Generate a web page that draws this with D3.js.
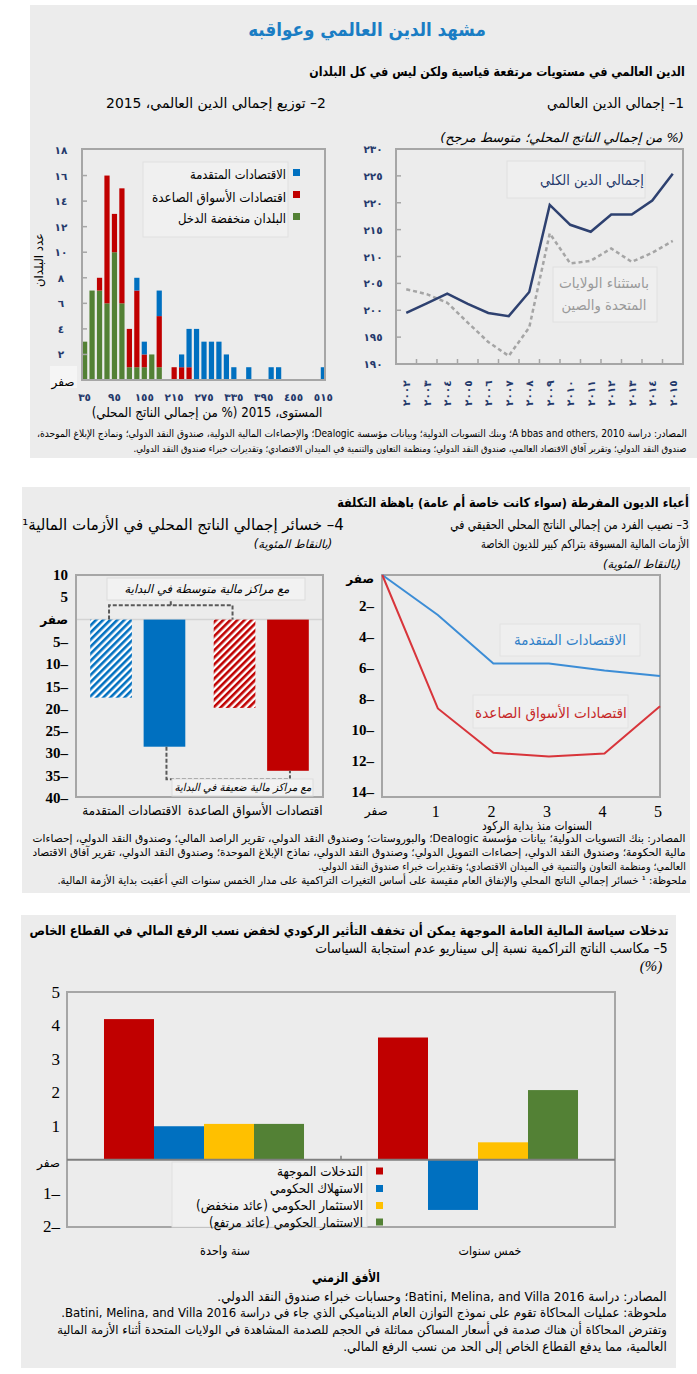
<!DOCTYPE html>
<html><head><meta charset="utf-8">
<script src="https://cdn.jsdelivr.net/npm/d3@7"></script>
<style>body{margin:0;background:#fff}svg{display:block}</style>
</head><body>
<script>
// ================= DATA =================
// Panel 1: global debt (% of GDP, weighted average)
const yearLabels = ["٢٠٠٢","٢٠٠٣","٢٠٠٤","٢٠٠٥","٢٠٠٦","٢٠٠٧","٢٠٠٨","٢٠٠٩","٢٠١٠","٢٠١١","٢٠١٢","٢٠١٣","٢٠١٤","٢٠١٥"];
const totalDebt = [199.5, 201.3, 203.1, 201.2, 199.5, 198.9, 203.4, 219.6, 215.9, 214.6, 217.8, 217.8, 220.4, 225.4];
const debtExUSChina = [203.9, 203.0, 201.4, 197.7, 194.1, 191.5, 196.8, 214.3, 208.7, 209.2, 211.5, 209.0, 210.7, 212.9];
const debtYTicks = [190,195,200,205,210,215,220,225,230];
const debtYTickLabels = ["١٩٠","١٩٥","٢٠٠","٢٠٥","٢١٠","٢١٥","٢٢٠","٢٢٥","٢٣٠"];

// Panel 2: distribution of debt 2015 (number of countries per bin)
const binStarts = [35,50,65,80,95,110,125,140,155,170,185,200,215,230,245,260,275,290,305,320,335,350,365,380,395,410,425,440,455,470,485,500,515];
const lowIncomeCount = [3,7,7,6,10,6,1,1,1,2,1,0,0,0,0,0,0,0,0,0,0,0,0,0,0,0,0,0,0,0,0,0,0];
const emergingCount  = [0,0,1,10,3,9,3,6,1,0,4,0,1,1,1,0,0,0,0,0,0,0,0,0,0,0,0,0,0,0,0,0,0];
const advancedCount  = [0,0,0,0,0,0,0,1,1,0,2,0,0,1,3,4,3,3,3,2,1,0,1,0,0,1,1,0,0,0,0,0,1];
const histXTickValues = [35,95,155,215,275,335,395,455,515];
const histXTickLabels = ["٣٥","٩٥","١٥٥","٢١٥","٢٧٥","٣٣٥","٣٩٥","٤٥٥","٥١٥"];
const histYTicks = [0,2,4,6,8,10,12,14,16,18];
const histYTickLabels = ["صفر","٢","٤","٦","٨","١٠","١٢","١٤","١٦","١٨"];
const histSeries = ["البلدان منخفضة الدخل","اقتصادات الأسواق الصاعدة","الاقتصادات المتقدمة"];

// Panel 3: real GDP per capita after crises (percentage points)
const yearsSince = [0,1,2,3,4,5];
const yearsSinceLabels = ["صفر","1","2","3","4","5"];
const advancedPath = [0, 2.58, 5.7, 5.7, 6.15, 6.5];
const emergingPath = [0, 8.6, 11.45, 11.7, 11.5, 8.45];
const pathYTicks = [0,2,4,6,8,10,12,14];
const pathYTickLabels = ["صفر","2–","4–","6–","8–","10–","12–","14–"];

// Panel 4: GDP losses in financial crises (percentage points)
const lossGroups = ["الاقتصادات المتقدمة","اقتصادات الأسواق الصاعدة"];
const lossMedium = [-17.5, -19.8];   // medium initial fiscal position (hatched)
const lossWeak   = [-28.5, -33.9];   // weak initial fiscal position (solid)
const lossYTicks = [10,5,0,-5,-10,-15,-20,-25,-30,-35,-40];
const lossYTickLabels = ["10","5","صفر","5–","10–","15–","20–","25–","30–","35–","40–"];

// Panel 5: cumulative output gains relative to no-policy scenario (%)
const horizonGroups = ["سنة واحدة","خمس سنوات"];
const targeted       = [4.2, 3.65];
const govConsumption = [1.0, -1.5];
const govInvestLow   = [1.07, 0.52];
const govInvestHigh  = [1.07, 2.08];
const gainSeries = ["التدخلات الموجهة","الاستهلاك الحكومي","الاستثمار الحكومي (عائد منخفض)","الاستثمار الحكومي (عائد مرتفع)"];
const gainYTicks = [-2,-1,0,1,2,3,4,5];
const gainYTickLabels = ["2–","1–","صفر","1","2","3","4","5"];

// ================= DRAWING =================
const AR = "'DejaVu Sans', sans-serif";
const SERIF = "'Liberation Serif', 'DejaVu Sans', serif";
const BG = "#ececec";
const FRAME = "#a6a6a6";
const BLUE = "#0070c0", RED = "#c00000", GREEN = "#538135", YELLOW = "#ffc000";
const NAVY = "#24396b";

const svg = d3.select("body").append("svg").attr("width",697).attr("height",1374);
const defs = svg.append("defs");

// text helper: a text wider than its target width is partly shrunk and partly narrowed
function T(p, s, x, y, o = {}) {
  const size = o.size || 13;
  const t = p.append("text").attr("x", x).attr("y", y).text(s)
    .attr("font-family", o.font || AR).attr("font-size", size)
    .attr("fill", o.color || "#000").attr("text-anchor", o.anchor || "middle")
    .attr("dominant-baseline", "central");
  if (o.rtl !== false) t.style("direction", "rtl").style("unicode-bidi", "embed");
  if (o.bold) t.attr("font-weight", "bold");
  if (o.italic) t.attr("font-style", "italic");
  let tr = "";
  if (o.w) {
    const L = t.node().getComputedTextLength();
    if (L > o.w) {
      const r = o.w / L;
      const k = Math.sqrt(r);
      t.attr("font-size", (size * k).toFixed(2));
      tr = `translate(${x},${y}) scale(${k.toFixed(4)},1) translate(${-x},${-y})`;
    }
  }
  if (o.rotate) tr = `rotate(${o.rotate},${x},${y}) ` + tr;
  if (tr) t.attr("transform", tr);
  return t;
}
function box(p, x, y, w, h, fill = "#f2f2f2", stroke = "#e3e3e3") {
  return p.append("rect").attr("x", x).attr("y", y).attr("width", w).attr("height", h)
    .attr("fill", fill).attr("stroke", stroke).attr("stroke-width", 1);
}

// background boxes
box(svg, 30, 5, 667, 453, BG, "none");
box(svg, 22, 487, 668, 406, BG, "none");
box(svg, 21, 915, 655, 453, BG, "none");

// ---------- Box 1 headings ----------
T(svg, "مشهد الدين العالمي وعواقبه", 367, 29, {size: 21, bold: true, color: "#1a7dc4", w: 238});
T(svg, "الدين العالمي في مستويات مرتفعة قياسية ولكن ليس في كل البلدان", 497, 72, {size: 14.5, bold: true, w: 376});
T(svg, "1– إجمالي الدين العالمي", 615.5, 103, {size: 15, w: 137});
T(svg, "2– توزيع إجمالي الدين العالمي، 2015", 216, 103, {size: 15, w: 220});
T(svg, "(% من إجمالي الناتج المحلي؛ متوسط مرجح)", 562, 137, {size: 13, italic: true, w: 252});

// ---------- Panel 1 ----------
{
  const x = d3.scaleBand().domain(yearLabels).range([396, 683]);
  const y = d3.scaleLinear().domain([190, 230]).range([364, 149]);
  const g = svg.append("g");
  g.append("rect").attr("x", 396).attr("y", 149).attr("width", 287).attr("height", 215)
    .attr("fill", "none").attr("stroke", FRAME).attr("stroke-width", 2);
  g.selectAll(".yt").data(debtYTicks.slice(1, -1)).join("line")
    .attr("x1", 396).attr("x2", 401).attr("y1", d => y(d)).attr("y2", d => y(d))
    .attr("stroke", FRAME).attr("stroke-width", 1.5);
  g.selectAll(".xt").data(yearLabels.slice(1)).join("line")
    .attr("x1", d => x(d)).attr("x2", d => x(d)).attr("y1", 364).attr("y2", 359)
    .attr("stroke", FRAME).attr("stroke-width", 1.5);
  debtYTicks.forEach((v, i) => T(g, debtYTickLabels[i], 373, y(v), {size: 10.5, bold: true, color: NAVY, rtl: false}));
  yearLabels.forEach(d => {
    const cx = x(d) + x.bandwidth() / 2;
    g.append("text").text(d).attr("font-family", AR).attr("font-size", 10.5).attr("font-weight", "bold")
      .attr("fill", NAVY).attr("text-anchor", "start").attr("dominant-baseline", "central")
      .attr("transform", `translate(${cx},406) rotate(-90)`);
  });
  const line = d3.line().x((d, i) => x(yearLabels[i]) + x.bandwidth() / 2).y(d => y(d));
  g.append("path").datum(debtExUSChina).attr("d", line).attr("fill", "none")
    .attr("stroke", "#a5a5a5").attr("stroke-width", 2.5).attr("stroke-dasharray", "4,3");
  g.append("path").datum(totalDebt).attr("d", line).attr("fill", "none")
    .attr("stroke", "#2e4170").attr("stroke-width", 2.5);
  box(g, 507, 161, 138, 37, "#efefef", "#e0e0e0");
  T(g, "إجمالي الدين الكلي", 592, 180, {size: 15.5, color: "#24396b", w: 104});
  box(g, 553, 267, 104, 55, "#efefef", "#e0e0e0");
  T(g, "باستثناء الولايات", 604, 283, {size: 15, color: "#9a9a9a", w: 90});
  T(g, "المتحدة والصين", 604, 305, {size: 15, color: "#9a9a9a", w: 85});
}

// ---------- Panel 2 ----------
{
  const x = d3.scaleBand().domain(binStarts).range([82, 326]).paddingInner(0.3).paddingOuter(0);
  const y = d3.scaleLinear().domain([0, 18]).range([380, 150]);
  const g = svg.append("g");
  box(g, 50, 366, 27, 22, "#f5f5f5", "none");
  const rows = binStarts.map((b, i) => ({bin: b, low: lowIncomeCount[i], em: emergingCount[i], adv: advancedCount[i]}));
  const stack = d3.stack().keys(["low", "em", "adv"])(rows);
  const colors = {low: GREEN, em: RED, adv: BLUE};
  stack.forEach(layer => {
    g.selectAll(null).data(layer.filter(d => d[1] > d[0])).join("rect")
      .attr("x", d => x(d.data.bin)).attr("width", x.bandwidth())
      .attr("y", d => y(d[1])).attr("height", d => y(d[0]) - y(d[1]))
      .attr("fill", colors[layer.key]);
  });
  g.append("rect").attr("x", 82).attr("y", 149).attr("width", 243).attr("height", 231)
    .attr("fill", "none").attr("stroke", FRAME).attr("stroke-width", 2);
  g.selectAll(".yt").data(histYTicks.slice(1, -1)).join("line")
    .attr("x1", 82).attr("x2", 87).attr("y1", d => y(d)).attr("y2", d => y(d))
    .attr("stroke", FRAME).attr("stroke-width", 1.5);
  histYTicks.forEach((v, i) => {
    if (v === 0) T(g, histYTickLabels[i], 63, 382, {size: 12});
    else T(g, histYTickLabels[i], 61, y(v), {size: 10.5, bold: true, color: NAVY, rtl: false});
  });
  histXTickValues.forEach((v, i) => T(g, histXTickLabels[i], x(v) + x.bandwidth() / 2, 397, {size: 10.5, bold: true, color: NAVY, rtl: false}));
  T(g, "عدد البلدان", 39, 260, {size: 13, rotate: -90, w: 54});
  T(g, "المستوى، 2015 (% من إجمالي الناتج المحلي)", 207, 412, {size: 15, w: 231});
  box(g, 143, 162, 145, 75, "#f0f0f0", "#e0e0e0");
  const legC = [BLUE, RED, GREEN];
  const legT = [histSeries[2], histSeries[1], histSeries[0]];
  const legW = [96, 134, 108];
  const legY = [175, 197, 219];
  legT.forEach((s, i) => {
    g.append("rect").attr("x", 293).attr("y", legY[i] - 6).attr("width", 7).attr("height", 7).attr("fill", legC[i]);
    T(g, s, 286 - legW[i] / 2, legY[i], {size: 14, w: legW[i]});
  });
}

// Box 1 sources
T(svg, "المصادر: دراسة A bbas and others, 2010؛ وبنك التسويات الدولية؛ وبيانات مؤسسة Dealogic؛ والإحصاءات المالية الدولية، صندوق النقد الدولي؛ ونماذج الإبلاغ الموحدة،", 362, 433, {size: 11, w: 650});
T(svg, "صندوق النقد الدولي؛ وتقرير آفاق الاقتصاد العالمي، صندوق النقد الدولي؛ ومنظمة التعاون والتنمية في الميدان الاقتصادي؛ وتقديرات خبراء صندوق النقد الدولي.", 410, 449, {size: 11, w: 554});

// ---------- Box 2 headings ----------
T(svg, "أعباء الديون المفرطة (سواء كانت خاصة أم عامة) باهظة التكلفة", 513, 503, {size: 14.5, bold: true, w: 352});
T(svg, "3– نصيب الفرد من إجمالي الناتج المحلي الحقيقي في", 569.5, 525, {size: 15.5, w: 239});
T(svg, "الأزمات المالية المسبوقة بتراكم كبير للديون الخاصة", 585, 544, {size: 15.5, w: 208});
T(svg, "(بالنقاط المئوية)", 642, 564, {size: 11.5, italic: true, w: 78});
T(svg, "4– خسائر إجمالي الناتج المحلي في الأزمات المالية¹", 183, 525, {size: 15.5, w: 322});
T(svg, "(بالنقاط المئوية)", 293, 544, {size: 11.5, italic: true, w: 82});

// ---------- Panel 4 ----------
{
  const x0 = d3.scaleBand().domain(lossGroups).range([76, 323]).paddingInner(0.23).paddingOuter(0.115);
  const x1 = d3.scaleBand().domain(["medium", "weak"]).range([0, x0.bandwidth()]).paddingInner(0.22);
  const y = d3.scaleLinear().domain([-40, 10]).range([798, 575]);
  const g = svg.append("g");
  const mkHatch = (id, c) => {
    const p = defs.append("pattern").attr("id", id).attr("patternUnits", "userSpaceOnUse")
      .attr("width", 5).attr("height", 5).attr("patternTransform", "rotate(45)");
    p.append("rect").attr("width", 5).attr("height", 5).attr("fill", "#fff");
    p.append("rect").attr("width", 2.6).attr("height", 5).attr("fill", c);
  };
  mkHatch("hatchBlue", BLUE); mkHatch("hatchRed", RED);
  const gc = [BLUE, RED];
  g.append("line").attr("x1", 76).attr("x2", 323).attr("y1", y(0)).attr("y2", y(0)).attr("stroke", "#d4d4d4").attr("stroke-width", 1.5);
  lossGroups.forEach((cat, i) => {
    g.append("rect").attr("x", x0(cat) + x1("medium")).attr("width", x1.bandwidth())
      .attr("y", y(0)).attr("height", y(lossMedium[i]) - y(0))
      .attr("fill", `url(#${i === 0 ? "hatchBlue" : "hatchRed"})`);
    g.append("rect").attr("x", x0(cat) + x1("weak")).attr("width", x1.bandwidth())
      .attr("y", y(0)).attr("height", y(lossWeak[i]) - y(0)).attr("fill", gc[i]);
    T(g, cat, x0(cat) + x0.bandwidth() / 2 - 6, 810, {size: 14.5, w: i === 0 ? 99 : 135});
  });
  g.append("rect").attr("x", 76).attr("y", 575).attr("width", 247).attr("height", 222)
    .attr("fill", "none").attr("stroke", FRAME).attr("stroke-width", 2);
  lossYTicks.forEach((v, i) => {
    if (v === 0) T(g, lossYTickLabels[i], 68, y(v), {size: 12, bold: true, anchor: "end", rtl: false});
    else T(g, lossYTickLabels[i], 68, y(v), {size: 15, bold: true, font: SERIF, anchor: "end", rtl: false});
  });
  const cM = lossGroups.map(c => x0(c) + x1("medium") + x1.bandwidth() / 2 - 2);
  const cW = lossGroups.map(c => x0(c) + x1("weak") + x1.bandwidth() / 2 + 2);
  const dash = {stroke: "#595959", "stroke-width": 2, "stroke-dasharray": "4,2", fill: "none"};
  const topY = y(3.2);
  const pTop = g.append("path").attr("d", `M${cM[0]},${y(0)}V${topY}H${cM[1]}V${y(0)}M${(cM[0] + cM[1]) / 2},${topY}V${topY - 4}`);
  const botY = y(-35.8);
  const pBot = g.append("path").attr("d", `M${cW[0]},${y(lossWeak[0])}V${botY}H${cW[1]}V${y(lossWeak[1])}`);
  [pTop, pBot].forEach(p => Object.entries(dash).forEach(([k, v]) => p.attr(k, v)));
  box(g, 107, 578, 198, 22, "#f2f2f2", "#dcdcdc");
  T(g, "مع مراكز مالية متوسطة في البداية", 207, 589, {size: 12.5, italic: true, w: 165});
  box(g, 172, 779, 141, 17, "#f2f2f2", "#dcdcdc");
  T(g, "مع مراكز مالية ضعيفة في البداية", 243, 787, {size: 11.5, italic: true, w: 137});
}

// ---------- Panel 3 ----------
{
  const x = d3.scaleLinear().domain([0, 5]).range([382.3, 660]);
  const y = d3.scaleLinear().domain([0, 14]).range([575, 792.3]);
  const g = svg.append("g");
  g.append("rect").attr("x", 382).attr("y", 575).attr("width", 278).attr("height", 222)
    .attr("fill", "none").attr("stroke", FRAME).attr("stroke-width", 2);
  pathYTicks.forEach((v, i) => {
    if (v === 0) T(g, pathYTickLabels[i], 374, y(v) + 4, {size: 12, bold: true, anchor: "end", rtl: false});
    else T(g, pathYTickLabels[i], 374, y(v), {size: 15, bold: true, font: SERIF, anchor: "end", rtl: false});
  });
  yearsSince.forEach((v, i) => {
    if (v === 0) T(g, yearsSinceLabels[i], x(v) - 6, 811, {size: 12});
    else T(g, yearsSinceLabels[i], x(v) - 2, 811, {size: 16, font: SERIF, rtl: false});
  });
  T(g, "السنوات منذ بداية الركود", 537, 826, {size: 14.5, w: 110});
  const line = d3.line().x((d, i) => x(yearsSince[i])).y(d => y(d));
  g.append("path").datum(advancedPath).attr("d", line).attr("fill", "none").attr("stroke", "#3c8dd6").attr("stroke-width", 2);
  g.append("path").datum(emergingPath).attr("d", line).attr("fill", "none").attr("stroke", "#d8353b").attr("stroke-width", 2);
  box(g, 500, 624, 140, 32, "#efefef", "#e2e2e2");
  T(g, "الاقتصادات المتقدمة", 570, 640, {size: 16, color: "#2f7fc8", w: 112});
  box(g, 473, 695, 155, 33, "#efefef", "#e2e2e2");
  T(g, "اقتصادات الأسواق الصاعدة", 551, 713, {size: 16, color: "#c62828", w: 152});
}

// Box 2 sources
T(svg, "المصادر: بنك التسويات الدولية؛ بيانات مؤسسة Dealogic؛ والبوروستات؛ وصندوق النقد الدولي، تقرير الراصد المالي؛ وصندوق النقد الدولي، إحصاءات", 359, 838, {size: 11, w: 654});
T(svg, "مالية الحكومة؛ وصندوق النقد الدولي، إحصاءات التمويل الدولي؛ وصندوق النقد الدولي، نماذج الإبلاغ الموحدة؛ وصندوق النقد الدولي، تقرير آفاق الاقتصاد", 359, 852, {size: 11, w: 654});
T(svg, "العالمي؛ ومنظمة التعاون والتنمية في الميدان الاقتصادي؛ وتقديرات خبراء صندوق النقد الدولي.", 502, 866, {size: 11, w: 368});
T(svg, "ملحوظة: ¹ خسائر إجمالي الناتج المحلي والإنفاق العام مقيسة على أساس التغيرات التراكمية على مدار الخمس سنوات التي أعقبت بداية الأزمة المالية.", 372, 880, {size: 11, w: 630});

// ---------- Box 3 headings ----------
T(svg, "تدخلات سياسة المالية العامة الموجهة يمكن أن تخفف التأثير الركودي لخفض نسب الرفع المالي في القطاع الخاص", 349, 931, {size: 14.5, bold: true, w: 640});
T(svg, "5– مكاسب الناتج التراكمية نسبة إلى سيناريو عدم استجابة السياسات", 491.5, 948, {size: 15.5, w: 353});
T(svg, "(%)", 651, 966, {size: 15, italic: true, font: SERIF});

// ---------- Panel 5 ----------
{
  const x0 = d3.scaleBand().domain(horizonGroups).range([67, 615]).paddingInner(0.27).paddingOuter(0.135);
  const keys = ["t", "c", "il", "ih"];
  const x1 = d3.scaleBand().domain(keys).range([0, x0.bandwidth()]);
  const y = d3.scaleLinear().domain([-2, 5]).range([1226.7, 992.3]);
  const vals = {t: targeted, c: govConsumption, il: govInvestLow, ih: govInvestHigh};
  const col = {t: RED, c: BLUE, il: YELLOW, ih: GREEN};
  const g = svg.append("g");
  horizonGroups.forEach((cat, i) => {
    keys.forEach(k => {
      const v = vals[k][i];
      g.append("rect").attr("x", x0(cat) + x1(k)).attr("width", x1.bandwidth())
        .attr("y", y(Math.max(0, v))).attr("height", Math.abs(y(v) - y(0))).attr("fill", col[k]);
    });
    T(g, cat, x0(cat) + x0.bandwidth() / 2 + (i === 0 ? 21 : 12), 1251, {size: 14, w: i === 0 ? 50 : 63});
  });
  g.append("rect").attr("x", 67).attr("y", 992).attr("width", 548).attr("height", 235)
    .attr("fill", "none").attr("stroke", FRAME).attr("stroke-width", 2);
  g.append("line").attr("x1", 67).attr("x2", 615).attr("y1", y(0)).attr("y2", y(0)).attr("stroke", "#7f7f7f").attr("stroke-width", 2);
  g.append("line").attr("x1", 341).attr("x2", 341).attr("y1", y(0)).attr("y2", y(0) - 4).attr("stroke", "#7f7f7f").attr("stroke-width", 1.5);
  gainYTicks.forEach((v, i) => {
    if (v === 0) T(g, gainYTickLabels[i], 60, y(v) + 3, {size: 12, anchor: "end", rtl: false});
    else T(g, gainYTickLabels[i], 60, y(v), {size: 17, font: SERIF, anchor: "end", rtl: false});
  });
  box(g, 172, 1162, 195, 65, "#f0f0f0", "#e0e0e0");
  const ly = [1171, 1188.5, 1205.5, 1222];
  const lw = [86, 93, 167, 154];
  keys.forEach((k, i) => {
    g.append("rect").attr("x", 376).attr("y", ly[i] - 3.5).attr("width", 7).attr("height", 7).attr("fill", col[k]);
    T(g, gainSeries[i], 363 - lw[i] / 2, ly[i], {size: 15, w: lw[i]});
  });
}

// Box 3 footer
T(svg, "الأفق الزمني", 346, 1278, {size: 16, bold: true, w: 68});
T(svg, "المصادر: دراسة Batini, Melina, and Villa 2016؛ وحسابات خبراء صندوق النقد الدولي.", 442, 1296, {size: 13.5, w: 450});
T(svg, "ملحوظة: عمليات المحاكاة تقوم على نموذج التوازن العام الديناميكي الذي جاء في دراسة Batini, Melina, and Villa 2016.", 364, 1313, {size: 13.5, w: 606});
T(svg, "وتفترض المحاكاة أن هناك صدمة في أسعار المساكن مماثلة في الحجم للصدمة المشاهدة في الولايات المتحدة أثناء الأزمة المالية", 362, 1330, {size: 13.5, w: 610});
T(svg, "العالمية، مما يدفع القطاع الخاص إلى الحد من نسب الرفع المالي.", 505, 1347, {size: 13.5, w: 324});
</script>
</body></html>
